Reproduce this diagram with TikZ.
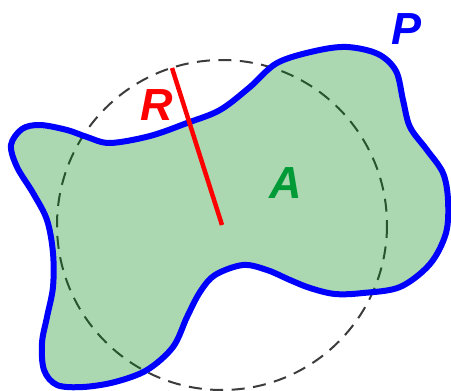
\documentclass[tikz,border=0pt]{standalone}
\usepackage{fontspec}
\setmainfont{Liberation Sans}
\begin{document}
\begin{tikzpicture}[x=1pt,y=-1pt,
  lbl/.style={font=\fontsize{45}{45}\selectfont\bfseries\itshape, inner sep=0pt},
  circ/.style={draw={rgb,255:red,60;green,60;blue,60}, line width=2pt, dash pattern=on 13pt off 8.5pt},
  blob/.style={fill={rgb,255:red,0;green,137;blue,15}, fill opacity=0.33},
  outline/.style={draw={rgb,255:red,0;green,0;blue,255}, line width=6pt, line join=round},
  radius line/.style={draw={rgb,255:red,255;green,0;blue,0}, line width=4.5pt}]
\useasboundingbox (0,0) rectangle (451,391);
\coordinate (c) at (222,225);
\coordinate (r) at (172,68);
\draw[circ] (c) circle[radius=165];
\def\blobpath{plot[smooth cycle, tension=0.55] coordinates {
 (11,145) (22,129) (40,125) (67,130) (87,137) (110,143) (150,136) (187,123) (220,110) (250,87) (277,63)
 (315,51) (347,47) (378,54) (396,71) (403,100) (410,127) (427,150) (443,173) (448,200)
 (446,233) (430,264) (400,287) (363,293) (335,294) (310,288) (290,280) (267,270) (243,265) (215,275)
 (200,292) (187,317) (173,347) (147,370) (115,382) (83,387) (57,385) (44,370) (42,343)
 (47,317) (53,287) (53,253) (47,220) (33,193) (17,167)}}
\path[blob] \blobpath;
\draw[outline] \blobpath;
\draw[radius line] (r) -- (c);
\node[lbl, text={rgb,255:red,255;green,0;blue,0}] (R) at (157,105) {R};
\node[lbl, text={rgb,255:red,0;green,0;blue,255}] (P) at (407,29) {P};
\node[lbl, text={rgb,255:red,0;green,155;blue,55}] (A) at (286,183) {A};
\end{tikzpicture}
\end{document}
